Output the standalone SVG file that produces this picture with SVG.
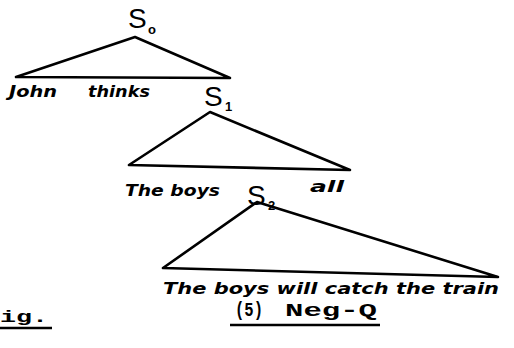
<svg xmlns="http://www.w3.org/2000/svg" width="514" height="348" viewBox="0 0 514 348">
<style>
.tri{fill:none;stroke:#000;stroke-width:2.6;stroke-linejoin:round}
.hw{font-family:"DejaVu Sans",sans-serif;font-style:italic;font-weight:bold;fill:#000;font-size:15px}
.s{font-family:"Liberation Sans",sans-serif;font-size:28px;fill:#000}
.sub{font-family:"Liberation Sans",sans-serif;font-size:13px;fill:#000;font-weight:bold}
.ty{font-family:"Liberation Mono",monospace;font-weight:bold;fill:#000}
.ul{stroke:#000;stroke-width:2.4}
</style>
<rect width="514" height="348" fill="#fff"/>
<g id="connectors">
<polygon class="tri" points="135,37 16,77 230,78"/>
<polygon class="tri" points="210,112 129,165 350,170"/>
<polygon class="tri" points="257,202 163,268 498,277"/>
</g>
<g id="S0">
<text class="s" x="128" y="28">S</text><text class="sub" x="148" y="34">o</text>
</g>
<g id="S1">
<text class="s" x="204" y="106">S</text><text class="sub" x="225" y="111">1</text>
</g>
<g id="S2">
<text class="s" x="247" y="205">S</text><text class="sub" x="268" y="210">2</text>
</g>
<g id="john"><text class="hw" x="9" y="97" textLength="48" lengthAdjust="spacingAndGlyphs">John</text></g>
<g id="thinks"><text class="hw" x="88" y="97" textLength="62" lengthAdjust="spacingAndGlyphs">thinks</text></g>
<g id="theboys1"><text class="hw" x="125" y="196" textLength="95" lengthAdjust="spacingAndGlyphs">The boys</text></g>
<g id="all"><text class="hw" x="310" y="192" textLength="34" lengthAdjust="spacingAndGlyphs">all</text></g>
<g id="sentence"><text class="hw" x="163" y="294" textLength="336" lengthAdjust="spacingAndGlyphs">The boys will catch the train</text></g>
<g id="caption">
<text class="ty" x="235" y="316" font-size="20" textLength="28" lengthAdjust="spacingAndGlyphs">(5)</text>
<text class="ty" x="285" y="316" font-size="18" textLength="92" lengthAdjust="spacingAndGlyphs">Neg-Q</text>
<line class="ul" x1="230" y1="325" x2="380" y2="325"/>
</g>
<g id="fig">
<text class="ty" x="0" y="322" font-size="17" textLength="48" lengthAdjust="spacingAndGlyphs">ig.</text>
<line class="ul" x1="0" y1="328" x2="52" y2="328"/>
</g>
</svg>
